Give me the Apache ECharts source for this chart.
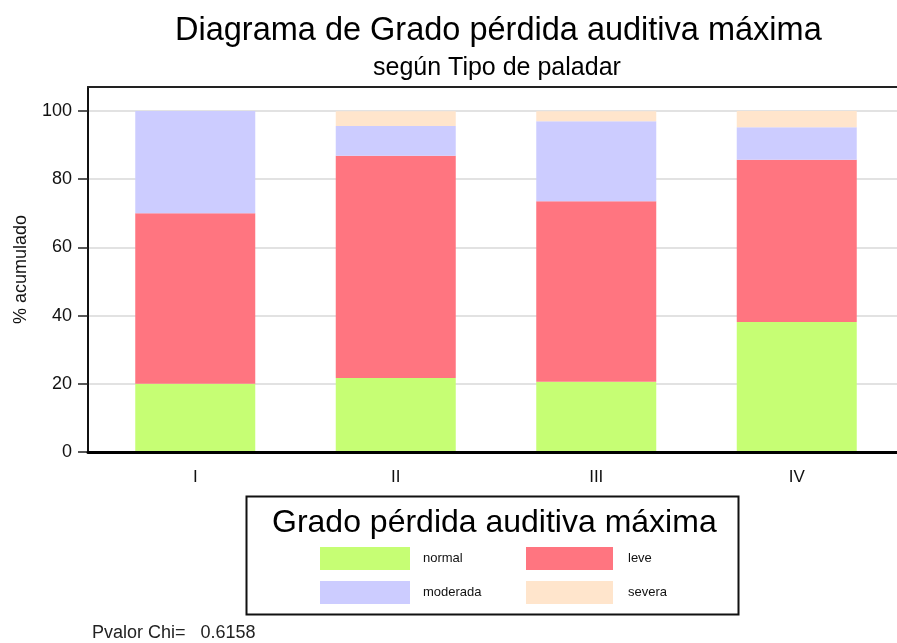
<!DOCTYPE html>
<html>
<head>
<meta charset="utf-8">
<script src="https://cdn.jsdelivr.net/npm/echarts@6/dist/echarts.min.js"></script>
<style>
  html, body { margin: 0; padding: 0; background: #fff; }
  #chart { width: 897px; height: 643px; }
</style>
</head>
<body>
<div id="chart"></div>
<script>
// categories (Tipo de paladar) and cumulative % per grade
const categories = ['I', 'II', 'III', 'IV']
const normal = [20, 21.7, 20.6, 38.1]
const leve = [50, 65.2, 52.9, 47.6]
const moderada = [30, 8.7, 23.5, 9.5]
const severa = [0, 4.3, 2.9, 4.8]
const yTicks = [0, 20, 40, 60, 80, 100]

const seriesNames = ['normal', 'leve', 'moderada', 'severa']
const seriesData = [normal, leve, moderada, severa]
const colors = ['#c6fe74', '#ff7580', '#ccccff', '#ffe5cc']

const font = "'Liberation Sans', Arial, sans-serif"

const myChart = echarts.init(document.getElementById('chart'))

const option = {
  animation: false,
  textStyle: { fontFamily: font },
  title: [
    {
      text: 'Diagrama de Grado pérdida auditiva máxima',
      left: 170, top: 10,
      textStyle: { fontSize: 32.5, fontWeight: 'normal', color: '#000', fontFamily: font }
    },
    {
      text: 'según Tipo de paladar',
      left: 368, top: 51,
      textStyle: { fontSize: 25, fontWeight: 'normal', color: '#000', fontFamily: font }
    },
    {
      text: 'Grado pérdida auditiva máxima',
      left: 267, top: 502,
      textStyle: { fontSize: 32, fontWeight: 'normal', color: '#000', fontFamily: font }
    },
    {
      text: 'Pvalor Chi=   0.6158',
      left: 87, top: 619,
      textStyle: { fontSize: 18, fontWeight: 'normal', color: '#222', fontFamily: font }
    }
  ],
  legend: [
    {
      data: ['normal', 'moderada'],
      orient: 'vertical',
      left: 315, top: 542,
      itemWidth: 90, itemHeight: 23, itemGap: 11,
      icon: 'rect',
      textStyle: { fontSize: 13, color: '#111', padding: [0, 0, 0, 8], fontFamily: font }
    },
    {
      data: ['leve', 'severa'],
      orient: 'vertical',
      left: 521, top: 542,
      itemWidth: 87, itemHeight: 23, itemGap: 11,
      icon: 'rect',
      textStyle: { fontSize: 13, color: '#111', padding: [0, 0, 0, 10], fontFamily: font }
    }
  ],
  graphic: [
    {
      type: 'rect',
      left: 244, top: 494,
      shape: { width: 492, height: 118 },
      style: { fill: 'none', stroke: '#111', lineWidth: 2 }
    }
  ],
  grid: [
    // bars
    { left: 95, width: 804, top: 111, bottom: 191 },
    // frame: y axis line, top border, thick x axis
    { left: 88, right: -10, top: 87, bottom: 191 }
  ],
  xAxis: [
    {
      gridIndex: 0,
      type: 'category',
      data: categories,
      axisLine: { show: false },
      axisTick: { show: false },
      axisLabel: { margin: 17, fontSize: 17, color: '#111', fontFamily: font }
    },
    {
      gridIndex: 1,
      type: 'value',
      min: 0, max: 1,
      z: 10,
      axisLine: { show: true, onZero: false, lineStyle: { color: '#000', width: 3 } },
      axisTick: { show: false },
      axisLabel: { show: false },
      splitLine: { show: false }
    },
    {
      gridIndex: 1,
      type: 'value',
      position: 'top',
      min: 0, max: 1,
      z: 10,
      axisLine: { show: true, onZero: false, lineStyle: { color: '#222', width: 2 } },
      axisTick: { show: false },
      axisLabel: { show: false },
      splitLine: { show: false }
    }
  ],
  yAxis: [
    {
      gridIndex: 0,
      type: 'value',
      min: yTicks[0], max: yTicks[yTicks.length - 1], interval: yTicks[1] - yTicks[0],
      offset: 7,
      axisLine: { show: false },
      axisTick: { show: true, length: 10, lineStyle: { color: '#222', width: 1.5 } },
      axisLabel: { margin: 16, fontSize: 18, color: '#111', fontFamily: font },
      splitLine: { show: false }
    },
    {
      gridIndex: 1,
      type: 'value',
      min: 0, max: 107, interval: 20,
      name: '% acumulado',
      nameLocation: 'middle',
      nameGap: 58,
      nameTextStyle: { fontSize: 18, color: '#111', fontFamily: font },
      axisLine: { show: true, onZero: false, lineStyle: { color: '#111', width: 2 } },
      axisTick: { show: false },
      axisLabel: { show: false },
      splitLine: { show: true, showMinLine: false, showMaxLine: false, lineStyle: { color: '#e2e2e2', width: 2 } }
    }
  ],
  series: seriesNames.map((name, i) => ({
    name: name,
    type: 'bar',
    stack: 'total',
    xAxisIndex: 0,
    yAxisIndex: 0,
    barWidth: 120,
    itemStyle: { color: colors[i] },
    data: seriesData[i]
  }))
}

myChart.setOption(option)
</script>
</body>
</html>
